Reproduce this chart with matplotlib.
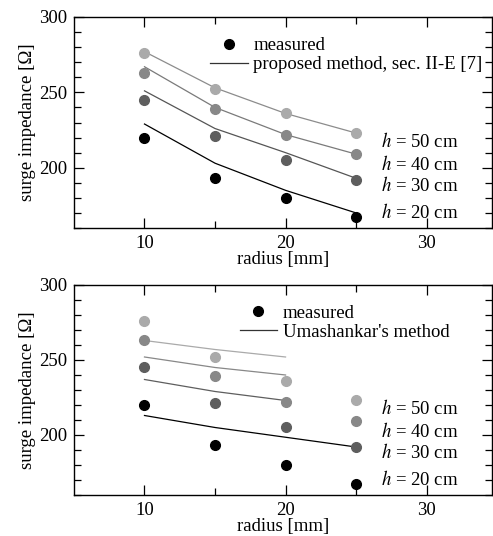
import numpy as np
import matplotlib
matplotlib.use("Agg")
import matplotlib.pyplot as plt
from matplotlib.lines import Line2D

plt.rcParams['font.family'] = ['Liberation Serif', 'DejaVu Serif']
plt.rcParams['mathtext.fontset'] = 'stix'
plt.rcParams['font.size'] = 13.5

# measured surge impedance vs radius
radius = [10, 15, 20, 25]
meas_20 = [220, 193, 180, 167]
meas_30 = [245, 221, 205, 192]
meas_40 = [263, 239, 222, 209]
meas_50 = [276, 252, 236, 223]

# proposed method, sec. II-E
prop_20 = [229, 203, 185, 170]
prop_30 = [251, 226, 210, 193]
prop_40 = [267, 240, 222, 209]
prop_50 = [277, 253, 236, 223]

# Umashankar's method
uma_r_short = [10, 15, 20]
uma_r_long = [10, 15, 20, 25]
uma_50 = [263, 257, 252]
uma_40 = [252, 245, 240]
uma_30 = [237, 229, 223]
uma_20 = [213, 205, 198.5, 192]

heights = ['50', '40', '30', '20']
label_y = [217.5, 202, 188.5, 170]
pt_colors = ['#aaaaaa', '#888888', '#5e5e5e', 'black']

fig = plt.figure(figsize=(4.93, 5.36), dpi=100)
ax1 = fig.add_axes([0.150, 0.5746, 0.847, 0.3937])
ax2 = fig.add_axes([0.150, 0.0765, 0.847, 0.3918])

def style(ax):
    ax.set_xlim(5, 34.6)
    ax.set_ylim(160, 300)
    ax.set_xticks([10, 20, 30])
    ax.set_xticks([15, 25], minor=True)
    ax.set_yticks([200, 250, 300])
    ax.set_yticks(np.arange(160, 300, 10), minor=True)
    ax.tick_params(which='both', direction='in', top=True, right=True, width=0.9)
    ax.tick_params(which='major', length=7, pad=5)
    ax.tick_params(which='minor', length=5)
    for s in ax.spines.values():
        s.set_linewidth(1.0)
    ax.set_xlabel('radius [mm]', labelpad=-1)
    ax.set_ylabel('surge impedance [Ω]', labelpad=2)
    for h, y in zip(heights, label_y):
        ax.text(26.8, y, '$h$ = ' + h + ' cm', va='center', ha='left')

meas = [meas_50, meas_40, meas_30, meas_20]

# top: proposed method
prop = [prop_50, prop_40, prop_30, prop_20]
prop_colors = ['#8c8c8c', '#7a7a7a', '#555555', 'black']
for p, c in zip(prop, prop_colors):
    ax1.plot(radius, p, color=c, lw=0.9)
for m, c in zip(meas, pt_colors):
    ax1.plot(radius, m, ls='none', marker='o', ms=7, color=c)
style(ax1)
handles = [Line2D([], [], ls='none', marker='o', ms=7, color='black'),
           Line2D([], [], color='#333333', lw=0.9)]
ax1.legend(handles, ['measured', 'proposed method, sec. II-E [7]'],
           loc='upper left', bbox_to_anchor=(0.326, 0.905), frameon=False,
           borderpad=0, borderaxespad=0, handlelength=2, handletextpad=0.3,
           labelspacing=0.1)

# bottom: Umashankar's method
uma_x = [uma_r_short, uma_r_short, uma_r_short, uma_r_long]
uma = [uma_50, uma_40, uma_30, uma_20]
for x, u, c in zip(uma_x, uma, pt_colors):
    ax2.plot(x, u, color=c, lw=0.9)
for m, c in zip(meas, pt_colors):
    ax2.plot(radius, m, ls='none', marker='o', ms=7, color=c)
style(ax2)
ax2.legend(handles, ['measured', "Umashankar's method"],
           loc='upper left', bbox_to_anchor=(0.397, 0.907), frameon=False,
           borderpad=0, borderaxespad=0, handlelength=2, handletextpad=0.3,
           labelspacing=0.1)

fig.savefig('out.png', dpi=100)
